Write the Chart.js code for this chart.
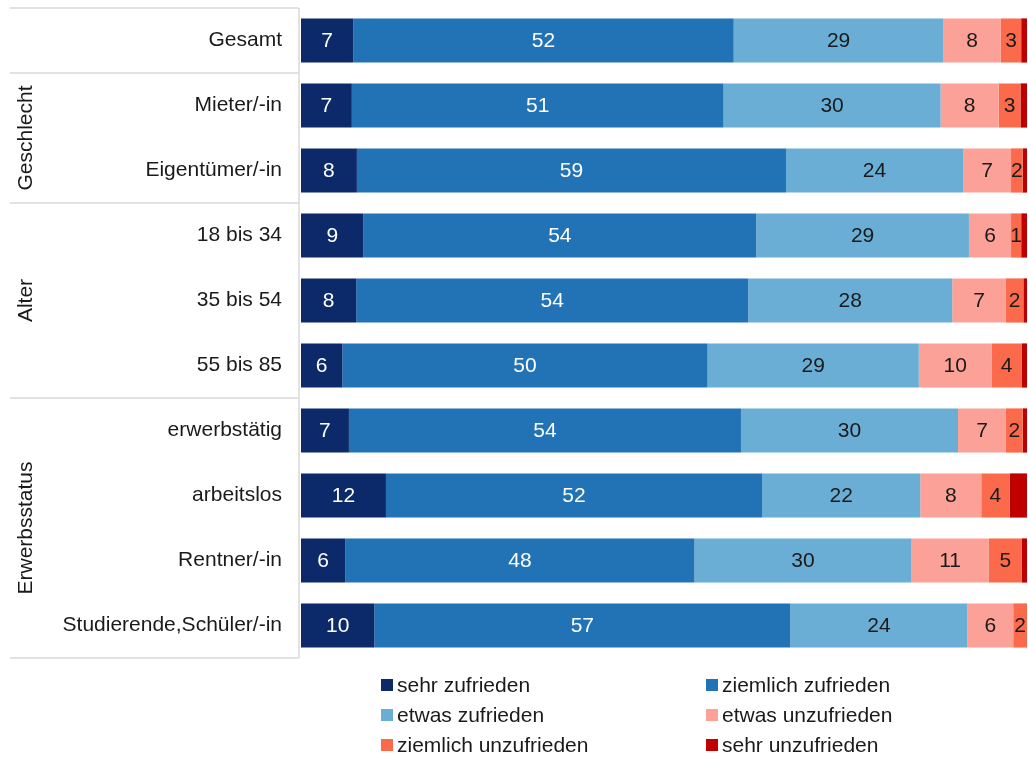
<!DOCTYPE html>
<html><head><meta charset="utf-8">
<script src="https://cdn.jsdelivr.net/npm/chart.js@4/dist/chart.umd.min.js"></script>
<style>
html,body{margin:0;padding:0;background:#fff;}
#wrap{position:relative;width:1028px;height:760px;}
#c{position:absolute;left:0;top:0;}
#legend{position:absolute;left:381px;top:673px;width:620px;font-family:"Liberation Sans",Arial,sans-serif;font-size:21px;color:#1a1a1a;display:grid;grid-template-columns:325px 290px;row-gap:6px;}
.li{display:flex;align-items:center;height:24px;white-space:nowrap;}
.sw{width:12px;height:12px;margin-right:4px;flex:none;}
</style></head>
<body><div id="wrap"><canvas id="c" width="1028" height="760"></canvas><div id="legend"></div></div>
<script>
const categories = ["Gesamt","Mieter/-in","Eigentümer/-in","18 bis 34","35 bis 54","55 bis 85","erwerbstätig","arbeitslos","Rentner/-in","Studierende,Schüler/-in"];
const groups = [
  {name:"", from:0, to:0},
  {name:"Geschlecht", from:1, to:2},
  {name:"Alter", from:3, to:5},
  {name:"Erwerbsstatus", from:6, to:9}
];
const seriesNames = ["sehr zufrieden","ziemlich zufrieden","etwas zufrieden","etwas unzufrieden","ziemlich unzufrieden","sehr unzufrieden"];
const sehrZufrieden      = [7.2, 7.0, 7.7, 8.6, 7.6, 5.7, 6.6, 11.7, 6.1, 10.1];
const ziemlichZufrieden  = [52.4, 51.2, 59.1, 54.1, 54.0, 50.3, 54.0, 51.8, 48.1, 57.3];
const etwasZufrieden     = [28.9, 29.9, 24.4, 29.3, 28.1, 29.1, 29.9, 21.8, 29.9, 24.4];
const etwasUnzufrieden   = [7.9, 8.0, 6.6, 5.8, 7.4, 10.0, 6.6, 8.4, 10.6, 6.3];
const ziemlichUnzufrieden= [2.8, 3.0, 1.6, 1.4, 2.4, 4.2, 2.3, 3.9, 4.6, 1.9];
const sehrUnzufrieden    = [0.8, 0.9, 0.6, 0.8, 0.5, 0.7, 0.6, 2.4, 0.7, 0.0];
const colors = ["#0c2a6a","#2272b6","#6aaed6","#fca197","#fb6b4b","#c00000"];
const labelColors = ["#ffffff","#ffffff","#1a1a1a","#1a1a1a","#1a1a1a",null];
const seriesValues = [sehrZufrieden, ziemlichZufrieden, etwasZufrieden, etwasUnzufrieden, ziemlichUnzufrieden, sehrUnzufrieden];

const FONT = '"Liberation Sans", Arial, sans-serif';
const FS = 21;

const structurePlugin = {
  id:'structure',
  afterDraw(chart){
    const ctx = chart.ctx, y = chart.scales.y, ca = chart.chartArea;
    const bound = i => i <= 0 ? ca.top : (i >= categories.length ? ca.bottom : (y.getPixelForValue(i-1)+y.getPixelForValue(i))/2);
    ctx.save();
    ctx.strokeStyle = '#d9d9d9'; ctx.lineWidth = 1.5;
    const lines = [0]; groups.forEach(g=>lines.push(g.to+1));
    lines.forEach(i=>{ const yy = Math.round(bound(i)); ctx.beginPath(); ctx.moveTo(10,yy); ctx.lineTo(299,yy); ctx.stroke(); });
    ctx.beginPath(); ctx.moveTo(299, ca.top); ctx.lineTo(299, ca.bottom); ctx.stroke();
    ctx.fillStyle = '#1a1a1a'; ctx.font = FS + 'px ' + FONT; ctx.textAlign='center'; ctx.textBaseline='middle';
    groups.forEach(g=>{
      if(!g.name) return;
      const cy = (bound(g.from)+bound(g.to+1))/2;
      ctx.save(); ctx.translate(26, cy); ctx.rotate(-Math.PI/2); ctx.fillText(g.name,0,0); ctx.restore();
    });
    ctx.restore();
  },
  afterDatasetsDraw(chart){
    const ctx = chart.ctx;
    ctx.save(); ctx.font = FS + 'px ' + FONT; ctx.textAlign='center'; ctx.textBaseline='middle';
    chart.data.datasets.forEach((ds,di)=>{
      if(!labelColors[di]) return;
      const meta = chart.getDatasetMeta(di);
      meta.data.forEach((bar,i)=>{
        const v = ds.data[i]; if(v < 1) return;
        const p = bar.getProps(['x','base','y'], true);
        ctx.fillStyle = labelColors[di];
        ctx.fillText(String(Math.round(v)), (p.x+p.base)/2, p.y+1);
      });
    });
    ctx.restore();
  }
};

const chart = new Chart(document.getElementById('c'), {
  type:'bar',
  data:{ labels:categories, datasets: seriesNames.map((n,i)=>({label:n, data:seriesValues[i], backgroundColor:colors[i], borderWidth:0, barPercentage:0.68, categoryPercentage:1})) },
  options:{
    indexAxis:'y', responsive:false, animation:false,
    layout:{padding:{top:8, bottom:102, right:1, left:0}},
    plugins:{legend:{display:false}, tooltip:{enabled:false}},
    scales:{
      x:{stacked:true, min:0, max:100, display:false},
      y:{stacked:true, grid:{display:false, drawTicks:false}, border:{display:false},
         ticks:{padding:19, color:'#1a1a1a', font:{family:FONT, size:FS}},
         afterFit(s){ s.width = 301; s.paddingTop = 0; s.paddingBottom = 0; }}
    }
  },
  plugins:[structurePlugin]
});

const lg = document.getElementById('legend');
seriesNames.forEach((n,i)=>{
  const d = document.createElement('div'); d.className='li';
  d.innerHTML = '<span class="sw" style="background:'+colors[i]+'"></span><span>'+n+'</span>';
  lg.appendChild(d);
});
</script></body></html>
